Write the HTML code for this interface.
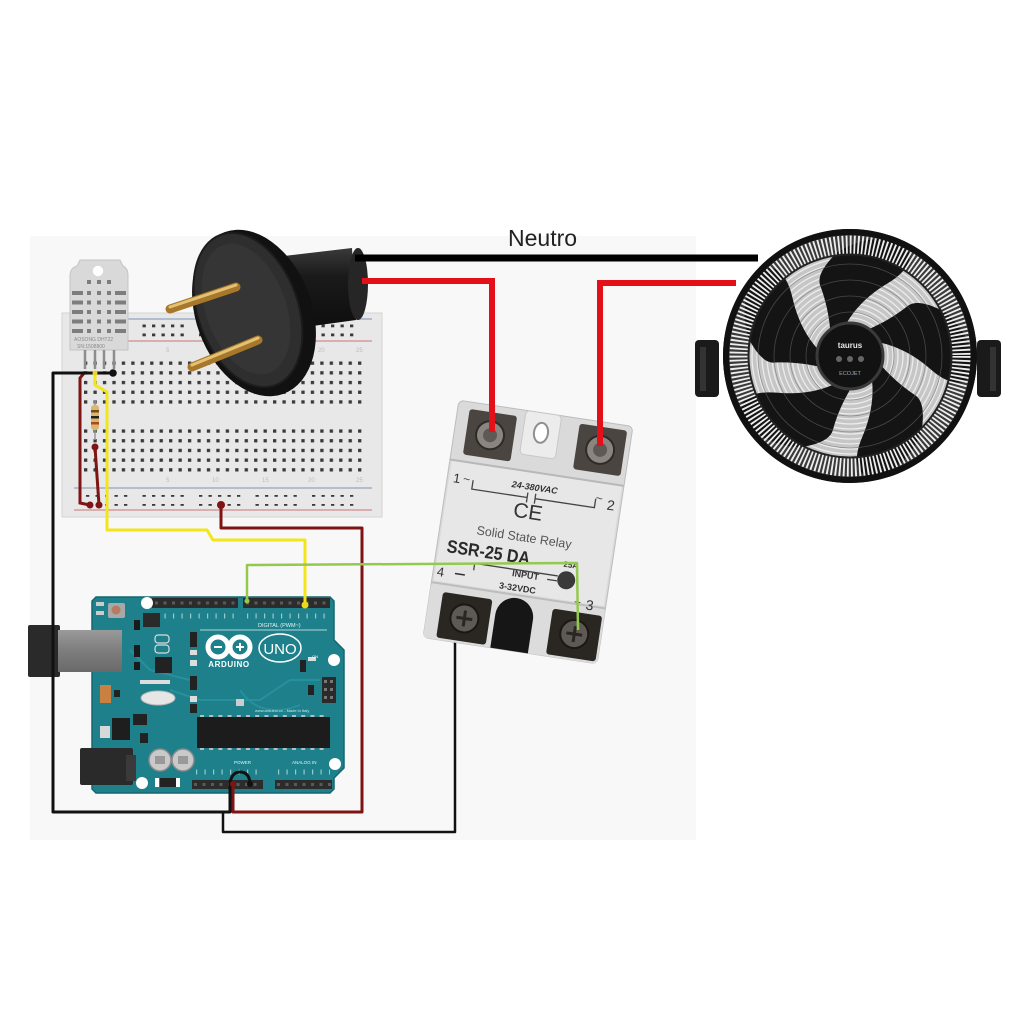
<!DOCTYPE html>
<html><head><meta charset="utf-8">
<style>
html,body{margin:0;padding:0;background:#fff;}
svg{display:block;}
text{font-family:"Liberation Sans",sans-serif;}
</style></head>
<body>
<svg width="1024" height="1024" viewBox="0 0 1024 1024" xmlns="http://www.w3.org/2000/svg">
<defs>
<pattern id="holes" x="84" y="361.5" width="9.45" height="9.7" patternUnits="userSpaceOnUse"><rect x="0" y="0" width="3.3" height="3.3" fill="#3a3a3a"/></pattern>
<pattern id="rail" x="86" y="0" width="56.5" height="9" patternUnits="userSpaceOnUse">
<rect x="0" y="0" width="3.3" height="3.3" fill="#3a3a3a"/><rect x="9.5" y="0" width="3.3" height="3.3" fill="#3a3a3a"/><rect x="19" y="0" width="3.3" height="3.3" fill="#3a3a3a"/><rect x="28.5" y="0" width="3.3" height="3.3" fill="#3a3a3a"/><rect x="38" y="0" width="3.3" height="3.3" fill="#3a3a3a"/></pattern>
<linearGradient id="usb" x1="0" y1="0" x2="0" y2="1"><stop offset="0" stop-color="#9a9a9a"/><stop offset="0.5" stop-color="#7d7d7d"/><stop offset="1" stop-color="#6a6a6a"/></linearGradient>
<linearGradient id="handle" x1="0" y1="0" x2="0" y2="1"><stop offset="0" stop-color="#3a3a3a"/><stop offset="0.35" stop-color="#1a1a1a"/><stop offset="1" stop-color="#0e0e0e"/></linearGradient>
</defs>

<rect x="30" y="236" width="666" height="604" fill="#f8f8f8"/>

<!-- ============ BREADBOARD ============ -->
<rect x="62" y="313" width="320" height="204" fill="#e8e8e8" stroke="#d4d4d4" stroke-width="1"/>
<line x1="74" y1="319" x2="372" y2="319" stroke="#9fb0c4" stroke-width="1.5"/>
<line x1="74" y1="341" x2="372" y2="341" stroke="#d49a9a" stroke-width="1.5"/>
<rect x="86" y="324.5" width="278" height="3.3" fill="url(#rail)"/>
<rect x="86" y="333.5" width="278" height="3.3" fill="url(#rail)"/>
<rect x="84" y="361.5" width="283.5" height="48" fill="url(#holes)"/>
<rect x="84" y="428.5" width="283.5" height="48" fill="url(#holes)"/>
<line x1="74" y1="488" x2="372" y2="488" stroke="#9fb0c4" stroke-width="1.5"/>
<line x1="74" y1="510" x2="372" y2="510" stroke="#d49a9a" stroke-width="1.5"/>
<rect x="86" y="493.5" width="278" height="3.3" fill="url(#rail)"/>
<rect x="86" y="502.5" width="278" height="3.3" fill="url(#rail)"/>
<g fill="#bdbdbd" font-size="6">
<text x="166" y="352">5</text><text x="212" y="352">10</text><text x="262" y="352">15</text><text x="318" y="352">20</text><text x="356" y="352">25</text>
<text x="166" y="482">5</text><text x="212" y="482">10</text><text x="262" y="482">15</text><text x="308" y="482">20</text><text x="356" y="482">25</text>
</g>

<line x1="95" y1="400" x2="95" y2="440" stroke="#999" stroke-width="1.5"/>
<rect x="91" y="405" width="8" height="25" rx="3" fill="#d9b870"/>
<rect x="91" y="410" width="8" height="2.5" fill="#7a4a1a"/>
<rect x="91" y="416" width="8" height="2.5" fill="#222"/>
<rect x="91" y="422" width="8" height="2.5" fill="#b8451a"/>

<!-- ============ DHT22 SENSOR ============ -->
<path d="M70,350 L70,276 Q70,268 77,266 L80,260 L120,260 L123,266 Q128,268 128,276 L128,350 Z" fill="#d9d9d9" stroke="#c4c4c4" stroke-width="1"/>
<circle cx="98" cy="271" r="5.2" fill="#fff"/>
<g fill="#7d7d7d">
<rect x="87" y="280" width="4" height="4"/><rect x="97" y="280" width="4" height="4"/><rect x="107" y="280" width="4" height="4"/>
<g id="dhtrow"><rect x="72" y="291" width="11" height="4"/><rect x="87" y="291" width="4" height="4"/><rect x="97" y="291" width="4" height="4"/><rect x="107" y="291" width="4" height="4"/><rect x="115" y="291" width="11" height="4"/></g>
<use href="#dhtrow" y="9.5"/><use href="#dhtrow" y="19"/><use href="#dhtrow" y="28.5"/><use href="#dhtrow" y="38"/>
</g>
<text x="74" y="341" font-size="5" fill="#8a8a8a">AOSONG DHT22</text>
<text x="77" y="348" font-size="5" fill="#8a8a8a">SN:1508800</text>
<g stroke="#8d8d8d" stroke-width="2.5">
<line x1="85" y1="350" x2="85" y2="369"/><line x1="95" y1="350" x2="95" y2="369"/><line x1="104" y1="350" x2="104" y2="369"/><line x1="114" y1="350" x2="114" y2="369"/>
</g>

<polyline points="85,372 80,378 80,503 90,505" fill="none" stroke="#7e1414" stroke-width="3"/>
<line x1="95" y1="447" x2="99" y2="505" stroke="#7e1414" stroke-width="3"/>
<circle cx="90" cy="505" r="3.5" fill="#7e1414"/>
<circle cx="99" cy="505" r="3.5" fill="#7e1414"/>
<circle cx="95" cy="447" r="3.5" fill="#7e1414"/>

<!-- ============ ARDUINO ============ -->
<g>
<rect x="28" y="625" width="32" height="52" fill="#2a2a2a" rx="2"/>
<path d="M96,597 L330,597 L334,601 L334,640 L344,650 L344,768 L334,778 L334,789 L330,793 L96,793 L92,789 L92,601 Z" fill="#1d808b" stroke="#146771" stroke-width="1.5"/>
<rect x="58" y="630" width="64" height="42" fill="url(#usb)"/>
<g stroke="#2a95a0" stroke-width="2" fill="none" opacity="0.8">
<path d="M170,690 L200,700 L260,700 L290,680 L320,680"/>
<path d="M130,650 L150,670 L190,680"/>
<path d="M240,690 Q260,720 300,705"/>
</g>
<rect x="152" y="598" width="86" height="10" fill="#2c2c2c"/>
<rect x="243" y="598" width="87" height="10" fill="#2c2c2c"/>
<line x1="155" y1="603" x2="237" y2="603" stroke="#5a5a5a" stroke-width="3" stroke-dasharray="3 5.5"/>
<line x1="246" y1="603" x2="330" y2="603" stroke="#5a5a5a" stroke-width="3" stroke-dasharray="3 5.5"/>
<line x1="156" y1="616" x2="236" y2="616" stroke="#cfe7ea" stroke-width="5" stroke-dasharray="1.2 7.3" opacity="0.7"/>
<line x1="247" y1="616" x2="328" y2="616" stroke="#cfe7ea" stroke-width="5" stroke-dasharray="1.2 7.3" opacity="0.7"/>
<text x="258" y="627" font-size="5.5" fill="#e6f4f5">DIGITAL (PWM~)</text>
<line x1="200" y1="630" x2="327" y2="630" stroke="#e6f4f5" stroke-width="0.8"/>
<rect x="108" y="603" width="17" height="15" fill="#a8a8a8" rx="2"/>
<circle cx="116" cy="610" r="4.5" fill="#b77a62"/>
<rect x="96" y="602" width="8" height="4" fill="#ccc"/><rect x="96" y="611" width="8" height="4" fill="#ccc"/>
<rect x="143" y="613" width="17" height="14" fill="#2a2a2a"/>
<rect x="134" y="620" width="6" height="10" fill="#1a1a1a"/>
<rect x="155" y="635" width="14" height="8" fill="none" stroke="#ddd" stroke-width="1.2" rx="3"/>
<rect x="155" y="645" width="14" height="8" fill="none" stroke="#ddd" stroke-width="1.2" rx="3"/>
<rect x="155" y="657" width="17" height="16" fill="#222"/>
<rect x="134" y="645" width="6" height="12" fill="#1a1a1a"/>
<rect x="134" y="662" width="6" height="8" fill="#1a1a1a"/>
<rect x="190" y="632" width="7" height="15" fill="#222"/><rect x="190" y="650" width="7" height="5" fill="#ddd"/>
<rect x="190" y="660" width="7" height="6" fill="#ddd"/>
<rect x="190" y="676" width="7" height="14" fill="#222"/>
<rect x="190" y="696" width="7" height="6" fill="#ddd"/>
<rect x="190" y="704" width="7" height="9" fill="#222"/>
<rect x="140" y="680" width="30" height="4" fill="#ddd"/>
<ellipse cx="158" cy="698" rx="17" ry="7" fill="#e6e6e6" stroke="#b8b8b8" stroke-width="1"/>
<rect x="100" y="685" width="11" height="18" fill="#c98040"/>
<rect x="114" y="690" width="6" height="7" fill="#222"/>
<rect x="112" y="718" width="18" height="22" fill="#1e1e1e"/>
<rect x="100" y="726" width="10" height="12" fill="#d8d8d8"/>
<rect x="133" y="714" width="14" height="11" fill="#222"/>
<rect x="140" y="733" width="8" height="10" fill="#222"/>
<circle cx="218" cy="647" r="10" fill="none" stroke="#fff" stroke-width="5"/>
<circle cx="240" cy="647" r="10" fill="none" stroke="#fff" stroke-width="5"/>
<rect x="214" y="646" width="8" height="2" fill="#fff"/>
<rect x="236" y="646" width="8" height="2" fill="#fff"/><rect x="239" y="643" width="2" height="8" fill="#fff"/>
<ellipse cx="280" cy="648" rx="21" ry="14" fill="none" stroke="#fff" stroke-width="1.5"/>
<text x="280" y="654" font-size="15" fill="#fff" text-anchor="middle">UNO</text>
<text x="229" y="667" font-size="8" font-weight="bold" fill="#fff" text-anchor="middle" letter-spacing="0.6">ARDUINO</text>
<rect x="300" y="660" width="6" height="12" fill="#222"/><rect x="308" y="657" width="8" height="4" fill="#ddd"/>
<text x="312" y="658" font-size="4" fill="#fff">ON</text>
<rect x="322" y="677" width="14" height="26" fill="#2a2a2a"/>
<g fill="#777"><rect x="324" y="680" width="3" height="3"/><rect x="330" y="680" width="3" height="3"/><rect x="324" y="688" width="3" height="3"/><rect x="330" y="688" width="3" height="3"/><rect x="324" y="696" width="3" height="3"/><rect x="330" y="696" width="3" height="3"/></g>
<rect x="308" y="685" width="6" height="10" fill="#222"/>
<rect x="236" y="699" width="8" height="7" fill="#ccc"/>
<text x="255" y="712" font-size="4" fill="#d0e8ea">www.arduino.cc - Made in Italy</text>
<rect x="197" y="717" width="133" height="31" fill="#1c1c1c"/>
<line x1="200" y1="716" x2="328" y2="716" stroke="#bbb" stroke-width="2" stroke-dasharray="4 5.2"/>
<line x1="200" y1="749" x2="328" y2="749" stroke="#bbb" stroke-width="2" stroke-dasharray="4 5.2"/>
<rect x="80" y="748" width="53" height="37" fill="#2a2a2a" rx="2"/>
<rect x="126" y="755" width="10" height="26" fill="#3a3a3a"/>
<circle cx="160" cy="760" r="11" fill="#c9c9c9" stroke="#8a8a8a" stroke-width="1.5"/>
<circle cx="183" cy="760" r="11" fill="#c9c9c9" stroke="#8a8a8a" stroke-width="1.5"/>
<rect x="155" y="756" width="10" height="8" fill="#999"/><rect x="178" y="756" width="10" height="8" fill="#999"/>
<rect x="160" y="778" width="16" height="9" fill="#222"/><rect x="155" y="778" width="4" height="9" fill="#fff"/><rect x="176" y="778" width="4" height="9" fill="#fff"/>
<rect x="192" y="780" width="71" height="9" fill="#2c2c2c"/>
<rect x="275" y="780" width="57" height="9" fill="#2c2c2c"/>
<line x1="194" y1="784.5" x2="262" y2="784.5" stroke="#5a5a5a" stroke-width="3" stroke-dasharray="3 5.5"/>
<line x1="277" y1="784.5" x2="331" y2="784.5" stroke="#5a5a5a" stroke-width="3" stroke-dasharray="3 5.5"/>
<line x1="196" y1="772" x2="262" y2="772" stroke="#cfe7ea" stroke-width="5" stroke-dasharray="1.2 7.3" opacity="0.7"/>
<line x1="278" y1="772" x2="330" y2="772" stroke="#cfe7ea" stroke-width="5" stroke-dasharray="1.2 7.3" opacity="0.7"/>
<text x="234" y="764" font-size="4.5" fill="#e6f4f5">POWER</text>
<text x="292" y="764" font-size="4.5" fill="#e6f4f5">ANALOG IN</text>
<circle cx="147" cy="603" r="6" fill="#fff"/>
<circle cx="334" cy="660" r="6" fill="#fff"/>
<circle cx="335" cy="764" r="6" fill="#fff"/>
<circle cx="142" cy="783" r="6" fill="#fff"/>
</g>

<!-- ============ WIRES (low voltage) ============ -->
<polyline points="115,373 53,373 53,812 230,812 230,783" fill="none" stroke="#111" stroke-width="3" stroke-linejoin="round"/>
<path d="M230,783 Q232,772 240,772 Q249,772 250,783" fill="none" stroke="#111" stroke-width="3"/>
<circle cx="113" cy="373" r="3.8" fill="#111"/>
<circle cx="250" cy="784" r="3" fill="#111"/>
<polyline points="221,505 221,528 362,528 362,812 233,812 233,783" fill="none" stroke="#7e1414" stroke-width="3" stroke-linejoin="round"/>
<circle cx="221" cy="505" r="4" fill="#7e1414"/>
<circle cx="233" cy="784" r="3" fill="#7e1414"/>
<polyline points="223,812 223,832 455,832 455,633" fill="none" stroke="#111" stroke-width="2.5" stroke-linejoin="round"/>
<polyline points="95,373 95,385 107,392 107,530 207,530 213,540 305,540 305,605" fill="none" stroke="#f2e51a" stroke-width="3" stroke-linejoin="round"/>
<circle cx="305" cy="605" r="3.5" fill="#e8d820"/>
<circle cx="95" cy="373" r="2.5" fill="#e8d820"/>

<!-- ============ RELAY ============ -->
<g transform="translate(528,532) rotate(8.6)">
<rect x="-88" y="-120" width="176" height="240" rx="5" fill="#dadada" stroke="#bdbdbd" stroke-width="1"/>
<rect x="-86" y="-60" width="172" height="122" fill="#e7e7e7"/>
<line x1="-88" y1="-60" x2="88" y2="-60" stroke="#b8b8b8" stroke-width="2"/>
<rect x="-76" y="-113" width="48" height="46" rx="3" fill="#4a4540"/>
<circle cx="-52" cy="-90" r="14" fill="#8a8580" stroke="#2e2a26" stroke-width="2"/>
<circle cx="-52" cy="-90" r="7" fill="#5e5955"/>
<rect x="35" y="-115" width="48" height="46" rx="3" fill="#4a4540"/>
<circle cx="59" cy="-92" r="14" fill="#8a8580" stroke="#2e2a26" stroke-width="2"/>
<circle cx="59" cy="-92" r="7" fill="#5e5955"/>
<rect x="-20" y="-120" width="36" height="44" rx="4" fill="#ececec" stroke="#c8c8c8"/>
<ellipse cx="-2" cy="-100" rx="7" ry="10" fill="#fff" stroke="#8f8f8f" stroke-width="2"/>
<text x="-82" y="-38" font-size="13" fill="#333">1</text>
<text x="-72" y="-39" font-size="12" fill="#333">~</text>
<path d="M-62,-43 L-62,-34 L-6,-34 M-6,-39 L-6,-29 M2,-39 L2,-29 M2,-34 L62,-34 L62,-43" fill="none" stroke="#444" stroke-width="1.3"/>
<text x="0" y="-42" font-size="9" font-weight="bold" font-style="italic" fill="#333" text-anchor="middle">24-380VAC</text>
<text x="62" y="-40" font-size="12" fill="#333">~</text>
<text x="74" y="-34" font-size="14" fill="#333">2</text>
<text x="-3" y="-13" font-size="21" fill="#333" text-anchor="middle">CE</text>
<text x="-3" y="10" font-size="12.5" fill="#555" text-anchor="middle">Solid State Relay</text>
<text x="-78" y="32" font-size="18" font-weight="bold" fill="#2a2a2a" textLength="84" lengthAdjust="spacingAndGlyphs">SSR-25  DA</text>
<text x="40" y="29" font-size="8" font-weight="bold" fill="#333">25A</text>
<path d="M-48,46 L-48,39 L36,39" fill="none" stroke="#444" stroke-width="1.3"/>
<text x="4" y="46" font-size="9" font-weight="bold" fill="#333" text-anchor="middle">INPUT</text>
<line x1="26" y1="44" x2="36" y2="44" stroke="#444" stroke-width="1.3"/>
<circle cx="45" cy="42" r="9" fill="#3a3a3a"/>
<text x="-84" y="57" font-size="13" fill="#333">4</text>
<line x1="-66" y1="52" x2="-56" y2="52" stroke="#333" stroke-width="1.5"/>
<text x="-2" y="60" font-size="9" font-weight="bold" fill="#333" text-anchor="middle">3-32VDC</text>
<rect x="-88" y="64" width="176" height="56" rx="4" fill="#dcdcdc"/>
<line x1="-88" y1="64" x2="88" y2="64" stroke="#bdbdbd" stroke-width="2"/>
<text x="56" y="66" font-size="12" fill="#333">+</text>
<text x="68" y="68" font-size="14" fill="#333">3</text>
<rect x="-75" y="72" width="50" height="46" rx="3" fill="#2a2622"/>
<circle cx="-50" cy="95" r="14" fill="#5e5955" stroke="#1a1714" stroke-width="2"/>
<path d="M-58,95 L-42,95 M-50,87 L-50,103" stroke="#2a2622" stroke-width="3"/>
<path d="M-20,120 L-20,86 A19,19 0 0 1 18,86 L18,120 Z" fill="#161616"/>
<rect x="36" y="72" width="50" height="46" rx="3" fill="#2a2622"/>
<circle cx="61" cy="94" r="14" fill="#5e5955" stroke="#1a1714" stroke-width="2"/>
<path d="M53,94 L69,94 M61,86 L61,102" stroke="#2a2622" stroke-width="3"/>
</g>

<polyline points="247,600 247,565 577,563 578,630" fill="none" stroke="#93c94e" stroke-width="2.5" stroke-linejoin="round"/>
<circle cx="247" cy="601" r="2.5" fill="#93c94e"/>

<!-- ============ PLUG ============ -->
<g>
<path d="M284,256 L352,248 L356,320 L298,328 Z" fill="url(#handle)"/>
<ellipse cx="358" cy="284" rx="10" ry="36" fill="#262626"/>
<ellipse cx="254" cy="313" rx="58" ry="86" transform="rotate(-20 254 313)" fill="#111"/>
<ellipse cx="248" cy="310" rx="50" ry="80" transform="rotate(-20 248 310)" fill="#2e2e2e" stroke="#1c1c1c" stroke-width="2"/>
<ellipse cx="246" cy="309" rx="40" ry="68" transform="rotate(-20 246 309)" fill="#353535"/>
<line x1="236" y1="287" x2="170" y2="309" stroke="#a7782c" stroke-width="9" stroke-linecap="round"/>
<line x1="236" y1="285" x2="170" y2="307" stroke="#e4c173" stroke-width="3" stroke-linecap="round"/>
<line x1="258" y1="340" x2="192" y2="367" stroke="#a7782c" stroke-width="9" stroke-linecap="round"/>
<line x1="258" y1="338" x2="192" y2="365" stroke="#e4c173" stroke-width="3" stroke-linecap="round"/>
</g>

<!-- ============ POWER WIRES ============ -->
<text x="508" y="246" font-size="23" fill="#222">Neutro</text>
<line x1="355" y1="258" x2="758" y2="258" stroke="#000" stroke-width="7"/>
<polyline points="362,281 492,281 492,432" fill="none" stroke="#e3101a" stroke-width="6"/>
<polyline points="600,446 600,283 736,283" fill="none" stroke="#e3101a" stroke-width="6"/>

<!-- ============ FAN ============ -->
<g transform="translate(850,356)">
<rect x="-155" y="-16" width="24" height="57" rx="4" fill="#1a1a1a"/>
<rect x="-150" y="-9" width="6" height="44" fill="#333"/>
<rect x="127" y="-16" width="24" height="57" rx="4" fill="#1a1a1a"/>
<rect x="140" y="-9" width="6" height="44" fill="#333"/>
<circle r="127" fill="#161616"/>
<circle r="121" fill="#3a3a3a"/>
<circle r="101" fill="#c6c6c6"/>
<g fill="none" stroke="#ececec" stroke-width="1.3">
<circle r="38"/><circle r="43"/><circle r="48"/><circle r="53"/><circle r="58"/><circle r="63"/><circle r="68"/><circle r="73"/><circle r="78"/><circle r="83"/><circle r="88"/><circle r="93"/><circle r="98"/>
</g>
<g fill="#141414">
<path d="M7.8,-29 C25,-42 45,-48 65,-50 C85,-52 98,-60 97,-72 C92,-92 60,-104 31,-99 C15,-93 3,-86 2.6,-75 C1,-55 -4,-40 -7.8,-29 Z" transform="rotate(-25)"/>
<path d="M7.8,-29 C25,-42 45,-48 65,-50 C85,-52 98,-60 97,-72 C92,-92 60,-104 31,-99 C15,-93 3,-86 2.6,-75 C1,-55 -4,-40 -7.8,-29 Z" transform="rotate(47)"/>
<path d="M7.8,-29 C25,-42 45,-48 65,-50 C85,-52 98,-60 97,-72 C92,-92 60,-104 31,-99 C15,-93 3,-86 2.6,-75 C1,-55 -4,-40 -7.8,-29 Z" transform="rotate(119)"/>
<path d="M7.8,-29 C25,-42 45,-48 65,-50 C85,-52 98,-60 97,-72 C92,-92 60,-104 31,-99 C15,-93 3,-86 2.6,-75 C1,-55 -4,-40 -7.8,-29 Z" transform="rotate(191)"/>
<path d="M7.8,-29 C25,-42 45,-48 65,-50 C85,-52 98,-60 97,-72 C92,-92 60,-104 31,-99 C15,-93 3,-86 2.6,-75 C1,-55 -4,-40 -7.8,-29 Z" transform="rotate(263)"/>
</g>
<g fill="none" stroke="#6a6a6a" stroke-width="0.8" opacity="0.6">
<circle r="44"/><circle r="60"/><circle r="76"/><circle r="92"/>
</g>
<circle r="111" fill="none" stroke="#eeeeee" stroke-width="19" stroke-dasharray="1.8 2.1"/>
<circle r="101.5" fill="none" stroke="#222" stroke-width="2"/>
<circle r="124" fill="none" stroke="#111" stroke-width="6"/>
<circle r="33" fill="#121212" stroke="#3a3a3a" stroke-width="3"/>
<text x="0" y="-8" font-size="8" font-weight="bold" fill="#e8e8e8" text-anchor="middle">taurus</text>
<circle cx="-11" cy="3" r="3" fill="#666"/><circle cx="0" cy="3" r="3" fill="#666"/><circle cx="11" cy="3" r="3" fill="#666"/>
<text x="0" y="19" font-size="5.5" fill="#9aa8c0" text-anchor="middle">ECOJET</text>
</g>
</svg>
</body></html>
